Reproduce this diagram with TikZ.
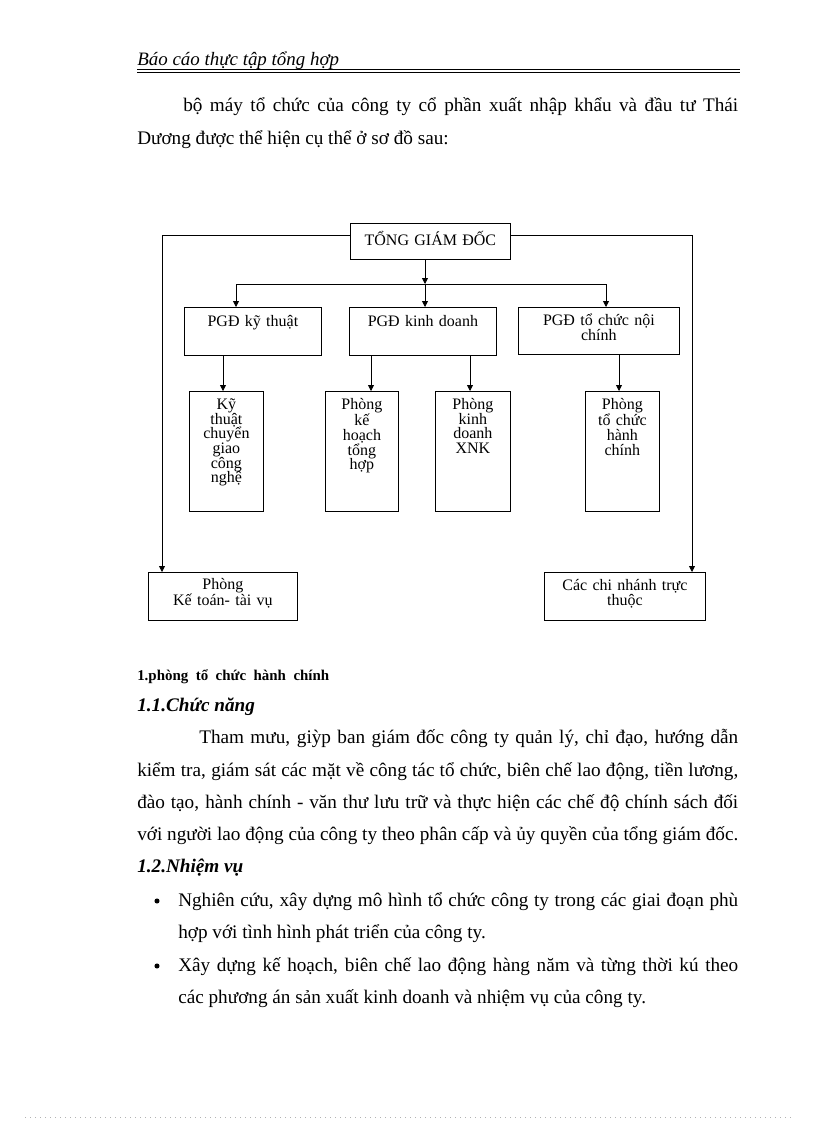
\documentclass[tikz,border=0pt]{standalone}
\usepackage{fontspec}
\setmainfont{Liberation Serif}
\usetikzlibrary{arrows.meta}
\begin{document}
\begin{tikzpicture}[x=0.75pt,y=-0.75pt,
  box/.style={draw, line width=0.6pt, inner sep=0pt, align=center, anchor=north west,
    font=\fontsize{12}{11}\selectfont},
  arr/.style={line width=0.6pt, -{Triangle[length=4.5pt,width=4.5pt]}},
  ln/.style={line width=0.6pt},
  body/.style={anchor=base west, inner sep=0pt, font=\fontsize{14.4}{16}\selectfont},
  head/.style={anchor=base west, inner sep=0pt},
  bul/.style={circle, fill=black, inner sep=0pt, minimum size=3.8pt}]
\useasboundingbox (0,0) rectangle (816,1123);
\fill[white] (0,0) rectangle (816,1123);

% header
\node[head, font=\fontsize{14.2}{16}\selectfont\itshape] (hdr) at (137,66) {Báo cáo thực tập tổng hợp};
\coordinate (r1a) at (137,69.5); \coordinate (r1b) at (740,69.5);
\coordinate (r2a) at (137,72.5); \coordinate (r2b) at (740,72.5);
\draw[ln] (r1a) -- (r1b);
\draw[ln] (r2a) -- (r2b);

% first paragraph
\node[body] (p1a) at (183,112) {\makebox[416.25pt][s]{bộ máy tổ chức của công ty cổ phần xuất nhập khẩu và đầu tư Thái}};
\node[body] (p1b) at (137,145) {Dương được thể hiện cụ thể ở sơ đồ sau:};

% diagram
\node[box, text width=120pt, text height=16.5pt, text depth=10.5pt] (tgd) at (350,223) {TỔNG GIÁM ĐỐC};
\node[box, text width=102.75pt, text height=14.25pt, text depth=21.75pt] (pgd1) at (184,307) {PGĐ kỹ thuật};
\node[box, text width=110.25pt, text height=14.25pt, text depth=21.75pt] (pgd2) at (349,307) {PGĐ kinh doanh};
\node[box, text width=120.75pt, text height=13.5pt, text depth=21.75pt, font=\fontsize{12}{11.25}\selectfont] (pgd3) at (518,307) {PGĐ tổ chức nội\\chính};

\node[box, text width=55.5pt, text height=13.5pt, text depth=76.5pt] (kt) at (189,391) {Kỹ\\thuật\\chuyển\\giao\\công\\nghệ};
\node[box, text width=54.75pt, text height=13.5pt, text depth=76.5pt] (kh) at (325,391) {Phòng\\kế\\hoạch\\tổng\\hợp};
\node[box, text width=56.25pt, text height=13.5pt, text depth=76.5pt] (xnk) at (435,391) {Phòng\\kinh\\doanh\\XNK};
\node[box, text width=55.5pt, text height=13.5pt, text depth=76.5pt] (tc) at (585,391) {Phòng\\tổ chức\\hành\\chính};

\node[box, text width=111.75pt, text height=12.75pt, text depth=23.25pt, font=\fontsize{12}{12}\selectfont] (kto) at (148,572) {Phòng\\Kế toán- tài vụ};
\node[box, text width=120.75pt, text height=13.5pt, text depth=22.5pt, font=\fontsize{12}{11.5}\selectfont] (cn) at (544,572) {Các chi nhánh trực\\thuộc};

\coordinate (barL) at (236,284);
\coordinate (barM) at (425,284);
\coordinate (barR) at (606,284);
\coordinate (tl) at (162,235);
\coordinate (tr) at (692,235);
\coordinate (a1) at (223,0);
\coordinate (a2) at (371,0);
\coordinate (a3) at (470,0);
\coordinate (a4) at (619,0);

\draw[arr] (tgd.south -| barM) -- (barM);
\draw[ln] (barL) -- (barR);
\draw[arr] (barL) -- (barL |- pgd1.north);
\draw[arr] (barM) -- (barM |- pgd2.north);
\draw[arr] (barR) -- (barR |- pgd3.north);
\draw[arr] (tgd.west |- tl) -- (tl) -- (tl |- kto.north);
\draw[arr] (tgd.east |- tr) -- (tr) -- (tr |- cn.north);
\draw[arr] (pgd1.south -| a1) -- (kt.north -| a1);
\draw[arr] (pgd2.south -| a2) -- (kh.north -| a2);
\draw[arr] (pgd2.south -| a3) -- (xnk.north -| a3);
\draw[arr] (pgd3.south -| a4) -- (tc.north -| a4);

% section text
\node[head, font=\fontsize{11.2}{13}\selectfont\bfseries] (s1) at (137,680) {1.phòng\ \ tổ\ \ chức\ \ hành\ \ chính};
\node[head, font=\fontsize{14.4}{16}\selectfont\bfseries\itshape] (s11) at (137,711) {1.1.Chức năng};
\node[body] (p2a) at (199,743) {\makebox[404.25pt][s]{Tham mưu, giỳp ban giám đốc công ty quản lý, chỉ đạo, hướng dẫn}};
\node[body] (p2b) at (137,776) {\makebox[450.75pt][s]{kiểm tra, giám sát các mặt về công tác tổ chức, biên chế lao động, tiền lương,}};
\node[body] (p2c) at (137,808) {\makebox[450.75pt][s]{đào tạo, hành chính - văn thư lưu trữ và thực hiện các chế độ chính sách đối}};
\node[body] (p2d) at (137,840) {\makebox[450.75pt][s]{với người lao động của công ty theo phân cấp và ủy quyền của tổng giám đốc.}};
\node[head, font=\fontsize{14.4}{16}\selectfont\bfseries\itshape] (s12) at (137,872) {1.2.Nhiệm vụ};

\node[bul] (bu1) at (157,901) {};
\node[body] (b1a) at (178,906) {\makebox[420pt][s]{Nghiên cứu, xây dựng mô hình tổ chức công ty trong các giai đoạn phù}};
\node[body] (b1b) at (178,938) {hợp với tình hình phát triển của công ty.};
\node[bul] (bu2) at (157,966) {};
\node[body] (b2a) at (178,971) {\makebox[420pt][s]{Xây dựng kế hoạch, biên chế lao động hàng năm và từng thời kú theo}};
\node[body] (b2b) at (178,1003) {các phương án sản xuất kinh doanh và nhiệm vụ của công ty.};

% page edge dots
\coordinate (d1) at (25,1117); \coordinate (d2) at (792,1117);
\draw[gray!60, line width=0.5pt, dash pattern=on 0.75pt off 3pt] (d1) -- (d2);
\end{tikzpicture}
\end{document}
